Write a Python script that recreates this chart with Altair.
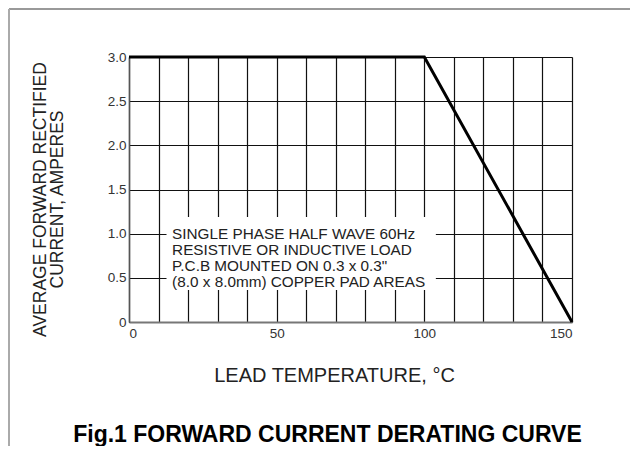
import altair as alt
import pandas as pd

# Derating curve (lead temperature in degC, average forward current in A)
temps = [0, 100, 150]
currents = [3.0, 3.0, 0.0]

x_grid = list(range(0, 151, 10))
y_grid = [0, 0.5, 1.0, 1.5, 2.0, 2.5, 3.0]

note_lines = [
    "SINGLE PHASE HALF WAVE 60Hz",
    "RESISTIVE OR INDUCTIVE LOAD",
    'P.C.B MOUNTED ON 0.3 x 0.3"',
    "(8.0 x 8.0mm) COPPER PAD AREAS",
]
# annotation box extents in data units
box_x = [12.7, 103.9]
box_y = [0.362, 1.189]
note_anchor = [14.6, 1.0]

FONT = "Liberation Sans"

curve = pd.DataFrame({"t": temps, "i": currents})
box = pd.DataFrame({"x": [box_x[0]], "x2": [box_x[1]], "y": [box_y[0]], "y2": [box_y[1]]})
note = pd.DataFrame({"x": [note_anchor[0]], "y": [note_anchor[1]], "txt": ["\n".join(note_lines)]})

xscale = alt.Scale(domain=[0, 150], nice=False, zero=False)
yscale = alt.Scale(domain=[0, 3], nice=False)

xaxis = alt.Axis(
    values=x_grid, grid=True, gridColor="#111", gridWidth=1.2, ticks=False,
    labelExpr="datum.value % 50 == 0 ? datum.label : ''", labelOverlap=False,
    labelFont=FONT, labelFontSize=13.5, labelColor="#333", labelPadding=4,
    domainColor="#777", domainWidth=2,
    title="LEAD TEMPERATURE, °C", titleFont=FONT, titleFontSize=20,
    titleFontWeight="normal", titleColor="#222", titleX=205, titleY=53,
    titleBaseline="middle", titleAlign="center",
)
yaxis = alt.Axis(
    values=y_grid, grid=True, gridColor="#111", gridWidth=1.2, ticks=False,
    labelExpr="datum.value == 0 ? '0' : format(datum.value, '.1f')",
    labelFont=FONT, labelFontSize=13.5, labelColor="#333", labelPadding=3,
    domainColor="#555", domainWidth=1.5,
    title=["AVERAGE FORWARD RECTIFIED", "CURRENT, AMPERES"], titleFont=FONT,
    titleFontSize=17.5, titleFontWeight="normal", titleColor="#222",
    titleX=-89, titleY=142, titleAngle=-90, titleBaseline="middle",
    titleAlign="center", titleLineHeight=17,
)

X = lambda f: alt.X(f, scale=xscale, axis=xaxis)
Y = lambda f: alt.Y(f, scale=yscale, axis=yaxis)

line = alt.Chart(curve).mark_line(color="black", strokeWidth=3).encode(
    x=X("t:Q"), y=Y("i:Q"),
)

rect = alt.Chart(box).mark_rect(color="white").encode(
    x=X("x:Q"), x2="x2", y=Y("y:Q"), y2="y2"
)

text = alt.Chart(note).mark_text(
    align="left", baseline="middle", lineBreak="\n", lineHeight=16,
    font=FONT, fontSize=15.3, color="#222",
).encode(x=X("x:Q"), y=Y("y:Q"), text="txt:N")

frame_top = alt.Chart(curve).mark_rule(color="#999", strokeWidth=2).encode(
    x=alt.value(-120), x2=alt.value(520), y=alt.value(-48)
)
frame_left = alt.Chart(curve).mark_rule(color="#aaa", strokeWidth=2).encode(
    x=alt.value(-120), y=alt.value(-48), y2=alt.value(389)
)

chart = alt.layer(line, rect, text, frame_top, frame_left).properties(
    width=443, height=265,
    autosize=alt.AutoSizeParams(type="none"),
    padding={"left": 121, "top": 49, "right": 58, "bottom": 124},
    title=alt.TitleParams(
        "Fig.1 FORWARD CURRENT DERATING CURVE", orient="top", anchor="middle",
        font=FONT, fontSize=23, fontWeight="bold", color="black",
        offset=0, baseline="middle", dx=-23, dy=450,
    ),
).configure_view(stroke="#666", strokeWidth=1.5).configure(background="white")

chart.save("out.html", embed_options={"renderer": "svg", "actions": False})
